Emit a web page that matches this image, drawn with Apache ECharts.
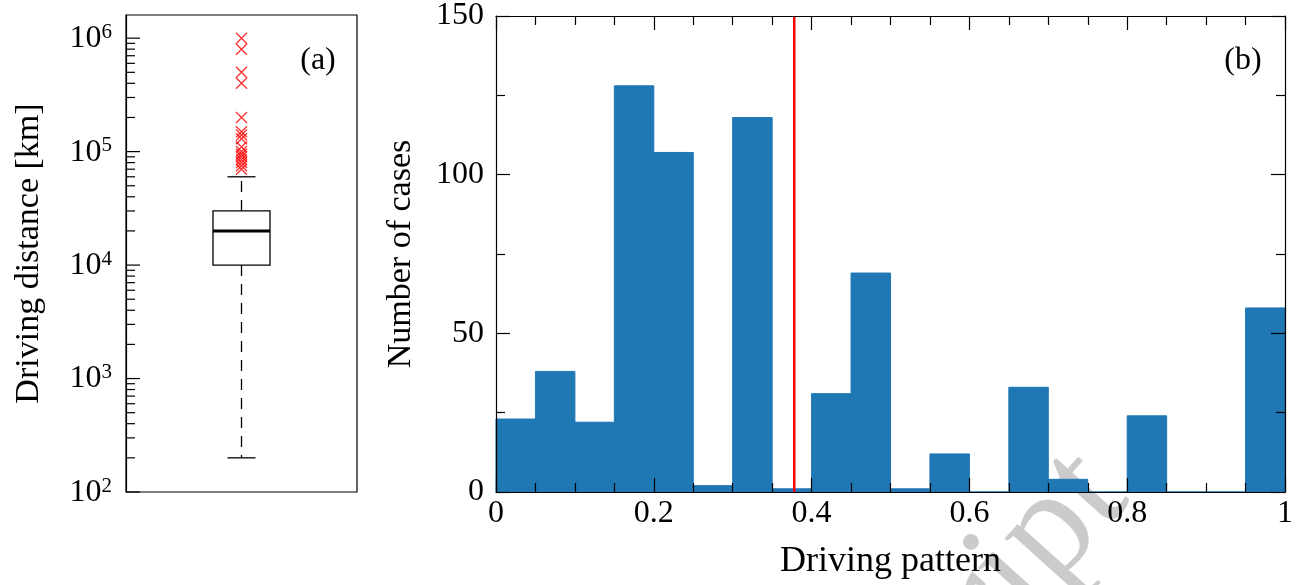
<!DOCTYPE html>
<html>
<head>
<meta charset="utf-8">
<script src="https://cdn.jsdelivr.net/npm/echarts@6/dist/echarts.min.js"></script>
<style>
  html, body { margin: 0; padding: 0; background: #fff; }
  #chart { width: 1311px; height: 585px; }
</style>
</head>
<body>
<div id="chart"></div>
<script>
// ---- Panel (a): driving distance per vehicle [km] ----
const boxCategories = [''];
// [lower whisker, Q1, median, Q3, upper whisker]
const boxStats = [[200, 10000, 20000, 30000, 60000]];
const outliers = [1000000, 800000, 500000, 400000, 200000, 150000, 140000, 130000,
                  110000, 100000, 95000, 90000, 85000, 80000, 75000, 70000];
const distMajorTicks = [100, 1000, 10000, 100000, 1000000];
const distMinorTicks = [200, 300, 400, 500, 600, 700, 800, 900,
                        2000, 3000, 4000, 5000, 6000, 7000, 8000, 9000,
                        20000, 30000, 40000, 50000, 60000, 70000, 80000, 90000,
                        200000, 300000, 400000, 500000, 600000, 700000, 800000, 900000];

// ---- Panel (b): histogram of driving pattern ----
const binEdges = [0, 0.05, 0.1, 0.15, 0.2, 0.25, 0.3, 0.35, 0.4, 0.45, 0.5,
                  0.55, 0.6, 0.65, 0.7, 0.75, 0.8, 0.85, 0.9, 0.95, 1.0];
const caseCounts = [23, 38, 22, 128, 107, 2, 118, 1, 31, 69,
                    1, 12, 0, 33, 4, 0, 24, 0, 0, 58];
const thresholdPattern = 0.378;

const FONT = '"Liberation Serif", "DejaVu Serif", serif';
const INK = '#000';
const BAR_BLUE = '#1f77b4';
const BOX_HALF = 28.5;
const CAP_HALF = 14;
const MAJOR_LEN = 14;
const MINOR_LEN = 9;

const chart = echarts.init(document.getElementById('chart'), null, { renderer: 'canvas' });

const tickStyle = { color: INK, width: 1.2 };

function powerLabel(v) {
  const lg = Math.log10(v);
  const e = Math.round(lg);
  if (Math.abs(lg - e) > 1e-6) return '';
  return '{b|10}{e|' + e + '}';
}

// inward tick marks on the left edge of the log axis, one per value
function logTickSeries(values, len) {
  return {
    type: 'custom', xAxisIndex: 0, yAxisIndex: 0, z: 12, silent: true,
    data: values.map(v => [0, v]),
    encode: { x: 0, y: 1 },
    renderItem(params, api) {
      const left = params.coordSys.x;
      const y = api.coord([0, api.value(1)])[1];
      return { type: 'line', shape: { x1: left, y1: y, x2: left + len, y2: y },
               style: { stroke: INK, lineWidth: 1.2 } };
    }
  };
}

const valueAxisBase = {
  axisLine: { show: true, onZero: false, lineStyle: tickStyle },
  axisTick: { inside: true, length: MAJOR_LEN, lineStyle: tickStyle },
  splitLine: { show: false }
};

const option = {
  animation: false,
  backgroundColor: '#fff',
  textStyle: { fontFamily: FONT },
  grid: [
    { left: 126, top: 15, width: 231, height: 477, show: true,
      borderColor: INK, borderWidth: 1.2, backgroundColor: 'transparent' },
    { left: 496, top: 15, width: 789, height: 477 }
  ],
  xAxis: [
    { type: 'category', gridIndex: 0, data: boxCategories,
      axisLine: { show: false, onZero: false }, axisTick: { show: false }, axisLabel: { show: false },
      splitLine: { show: false } },
    Object.assign({}, valueAxisBase, {
      type: 'value', gridIndex: 1, position: 'bottom', min: 0, max: 1, interval: 0.2, z: 10,
      minorTick: { show: true, splitNumber: 4, length: MINOR_LEN, lineStyle: tickStyle },
      axisLabel: { fontFamily: FONT, fontSize: 32, color: INK, margin: 6 },
      name: 'Driving pattern', nameLocation: 'middle', nameGap: 52,
      nameTextStyle: { fontFamily: FONT, fontSize: 36, color: INK } }),
    Object.assign({}, valueAxisBase, {
      type: 'value', gridIndex: 1, position: 'top', min: 0, max: 1, interval: 0.2, z: 10,
      minorTick: { show: true, splitNumber: 4, length: MINOR_LEN, lineStyle: tickStyle },
      axisLabel: { show: false } })
  ],
  yAxis: [
    { type: 'log', logBase: 10, gridIndex: 0, min: 100, max: 1.6e6, z: 10,
      axisLine: { show: true, onZero: false, lineStyle: tickStyle },
      axisTick: { show: false },
      axisLabel: {
        margin: 14, formatter: powerLabel,
        rich: {
          b: { fontFamily: FONT, fontSize: 32, color: INK, lineHeight: 33, verticalAlign: 'bottom' },
          e: { fontFamily: FONT, fontSize: 21, color: INK, lineHeight: 33, verticalAlign: 'top' }
        }
      },
      splitLine: { show: false },
      name: 'Driving distance [km]', nameLocation: 'middle', nameGap: 80, nameRotate: 90,
      nameTextStyle: { fontFamily: FONT, fontSize: 34, color: INK } },
    Object.assign({}, valueAxisBase, {
      type: 'value', gridIndex: 1, position: 'left', min: 0, max: 150, interval: 50, z: 10,
      minorTick: { show: true, splitNumber: 2, length: MINOR_LEN, lineStyle: tickStyle },
      axisLabel: { fontFamily: FONT, fontSize: 32, color: INK, margin: 12 },
      name: 'Number of cases', nameLocation: 'middle', nameGap: 78, nameRotate: 90,
      nameTextStyle: { fontFamily: FONT, fontSize: 34, color: INK } }),
    Object.assign({}, valueAxisBase, {
      type: 'value', gridIndex: 1, position: 'right', min: 0, max: 150, interval: 50, z: 10,
      minorTick: { show: true, splitNumber: 2, length: MINOR_LEN, lineStyle: tickStyle },
      axisLabel: { show: false } })
  ],
  graphic: [
    { type: 'text', z: 1, x: 1158, y: 524, rotation: 48 * Math.PI / 180,
      style: { text: 'Manuscript', font: '150px "Liberation Serif", serif', fill: '#cbcbcb',
               textAlign: 'right', textVerticalAlign: 'bottom' } },
    { type: 'text', z: 20, x: 318, y: 61,
      style: { text: '(a)', font: '32px "Liberation Serif", serif', fill: INK,
               textAlign: 'center', textVerticalAlign: 'middle' } },
    { type: 'text', z: 20, x: 1243, y: 61,
      style: { text: '(b)', font: '32px "Liberation Serif", serif', fill: INK,
               textAlign: 'center', textVerticalAlign: 'middle' } }
  ],
  series: [
    logTickSeries(distMajorTicks, MAJOR_LEN),
    logTickSeries(distMinorTicks, MINOR_LEN),
    {
      name: 'distance box', type: 'custom', xAxisIndex: 0, yAxisIndex: 0, z: 3,
      data: boxStats.map((s, i) => [i].concat(s)),
      encode: { x: 0, y: [1, 2, 3, 4, 5] },
      renderItem(params, api) {
        const i = api.value(0);
        const x = api.coord([i, api.value(3)])[0];
        const yLow = api.coord([i, api.value(1)])[1];
        const yQ1 = api.coord([i, api.value(2)])[1];
        const yMed = api.coord([i, api.value(3)])[1];
        const yQ3 = api.coord([i, api.value(4)])[1];
        const yHigh = api.coord([i, api.value(5)])[1];
        const solid = { stroke: INK, lineWidth: 1.3, fill: null };
        const dashed = { stroke: INK, lineWidth: 1.3, lineDash: [11, 8] };
        return { type: 'group', children: [
          { type: 'line', shape: { x1: x, y1: yQ1, x2: x, y2: yLow }, style: dashed },
          { type: 'line', shape: { x1: x, y1: yQ3, x2: x, y2: yHigh }, style: dashed },
          { type: 'line', shape: { x1: x - CAP_HALF, y1: yLow, x2: x + CAP_HALF, y2: yLow }, style: solid },
          { type: 'line', shape: { x1: x - CAP_HALF, y1: yHigh, x2: x + CAP_HALF, y2: yHigh }, style: solid },
          { type: 'rect', shape: { x: x - BOX_HALF, y: yQ3, width: 2 * BOX_HALF, height: yQ1 - yQ3 },
            style: { stroke: INK, lineWidth: 1.3, fill: '#fff' } },
          { type: 'line', shape: { x1: x - BOX_HALF, y1: yMed, x2: x + BOX_HALF, y2: yMed },
            style: { stroke: INK, lineWidth: 3 } }
        ] };
      }
    },
    {
      name: 'outliers', type: 'scatter', xAxisIndex: 0, yAxisIndex: 0, z: 4,
      data: outliers.map(v => [0, v]),
      symbol: 'path://M0,0L10,10M10,0L0,10', symbolSize: 11,
      itemStyle: { color: 'rgba(0,0,0,0)', borderColor: '#ff0000', borderWidth: 1.4 }
    },
    {
      name: 'cases', type: 'custom', xAxisIndex: 1, yAxisIndex: 1, z: 2,
      data: caseCounts.map((c, i) => [binEdges[i], binEdges[i + 1], c]),
      encode: { x: [0, 1], y: 2 },
      renderItem(params, api) {
        const p0 = api.coord([api.value(0), api.value(2)]);
        const p1 = api.coord([api.value(1), 0]);
        return { type: 'rect',
          shape: { x: p0[0], y: p0[1], width: p1[0] - p0[0], height: p1[1] - p0[1] },
          style: { fill: BAR_BLUE, stroke: BAR_BLUE, lineWidth: 1 } };
      }
    },
    {
      name: 'threshold', type: 'line', xAxisIndex: 1, yAxisIndex: 1, z: 5,
      data: [[thresholdPattern, 0], [thresholdPattern, 150]],
      symbol: 'none', lineStyle: { color: '#ff0000', width: 2.5 }
    }
  ]
};

chart.setOption(option);
</script>
</body>
</html>
